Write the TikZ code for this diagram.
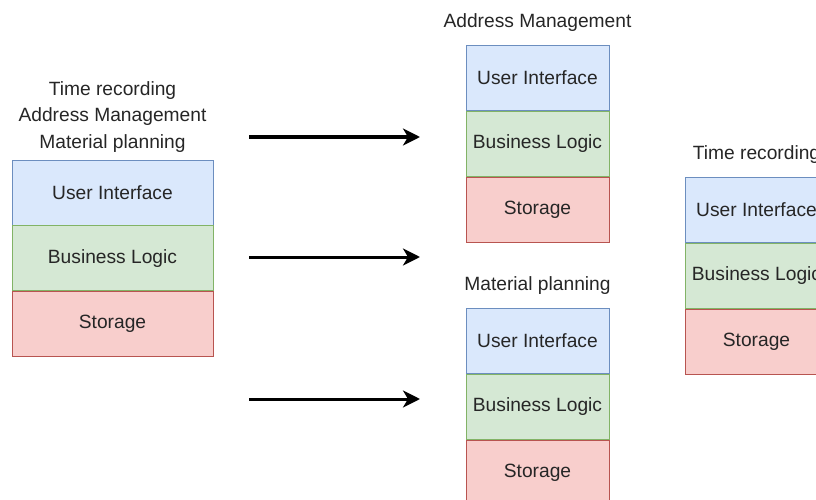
\documentclass[tikz,border=0pt]{standalone}
\usepackage{fontspec}
\setmainfont{Liberation Sans}
\usetikzlibrary{positioning,arrows.meta}

\definecolor{uiFill}{HTML}{DAE8FC}
\definecolor{uiLine}{HTML}{6C8EBF}
\definecolor{blFill}{HTML}{D5E8D4}
\definecolor{blLine}{HTML}{82B366}
\definecolor{stFill}{HTML}{F8CECC}
\definecolor{stLine}{HTML}{B85450}
\definecolor{txt}{HTML}{262626}

\begin{document}
\begin{tikzpicture}[
        x=1pt, y=-1pt,
        font=\fontsize{19.2}{26.5}\selectfont,
        text=txt,
        node distance=0pt,
        >={Stealth[length=17pt, width=17pt, inset=5pt]},
        layer/.style={minimum height=65pt, inner sep=0pt, line width=0.8pt},
        ui/.style={layer, draw=uiLine, fill=uiFill},
        logic/.style={layer, draw=blLine, fill=blFill},
        store/.style={layer, draw=stLine, fill=stFill},
        title/.style={align=center, inner sep=0pt},
        arrow/.style={->, line width=3pt, draw=black},
    ]
    \useasboundingbox (0,0) rectangle (816,500);

    % Monolith
    \node[ui, minimum width=201pt] (ui0) at (112.5,192.5) {User Interface};
    \node[logic, minimum width=201pt, below=of ui0] (bl0) {Business Logic};
    \node[store, minimum width=201pt, below=of bl0] (st0) {Storage};
    \node[title, above=7pt of ui0] {Time recording\\Address Management\\Material planning};

    % Address Management
    \node[ui, minimum width=143pt] (ui1) at (537.5,78) {User Interface};
    \node[logic, minimum width=143pt, below=of ui1] (bl1) {Business Logic};
    \node[store, minimum width=143pt, below=of bl1] (st1) {Storage};
    \node[title, above=13pt of ui1] {Address Management};

    % Material planning
    \node[ui, minimum width=143pt] (ui2) at (537.5,341) {User Interface};
    \node[logic, minimum width=143pt, below=of ui2] (bl2) {Business Logic};
    \node[store, minimum width=143pt, below=of bl2] (st2) {Storage};
    \node[title, above=13pt of ui2] {Material planning};

    % Time recording
    \node[ui, minimum width=143pt] (ui3) at (756.5,210) {User Interface};
    \node[logic, minimum width=143pt, below=of ui3] (bl3) {Business Logic};
    \node[store, minimum width=143pt, below=of bl3] (st3) {Storage};
    \node[title, above=13pt of ui3] {Time recording};

    % Arrows
    \foreach \y [count=\i] in {137,257,399} {
            \coordinate (from\i) at (249,\y);
            \coordinate (to\i) at (420,\y);
            \draw[arrow] (from\i) -- (to\i);
        }

\end{tikzpicture}
\end{document}
